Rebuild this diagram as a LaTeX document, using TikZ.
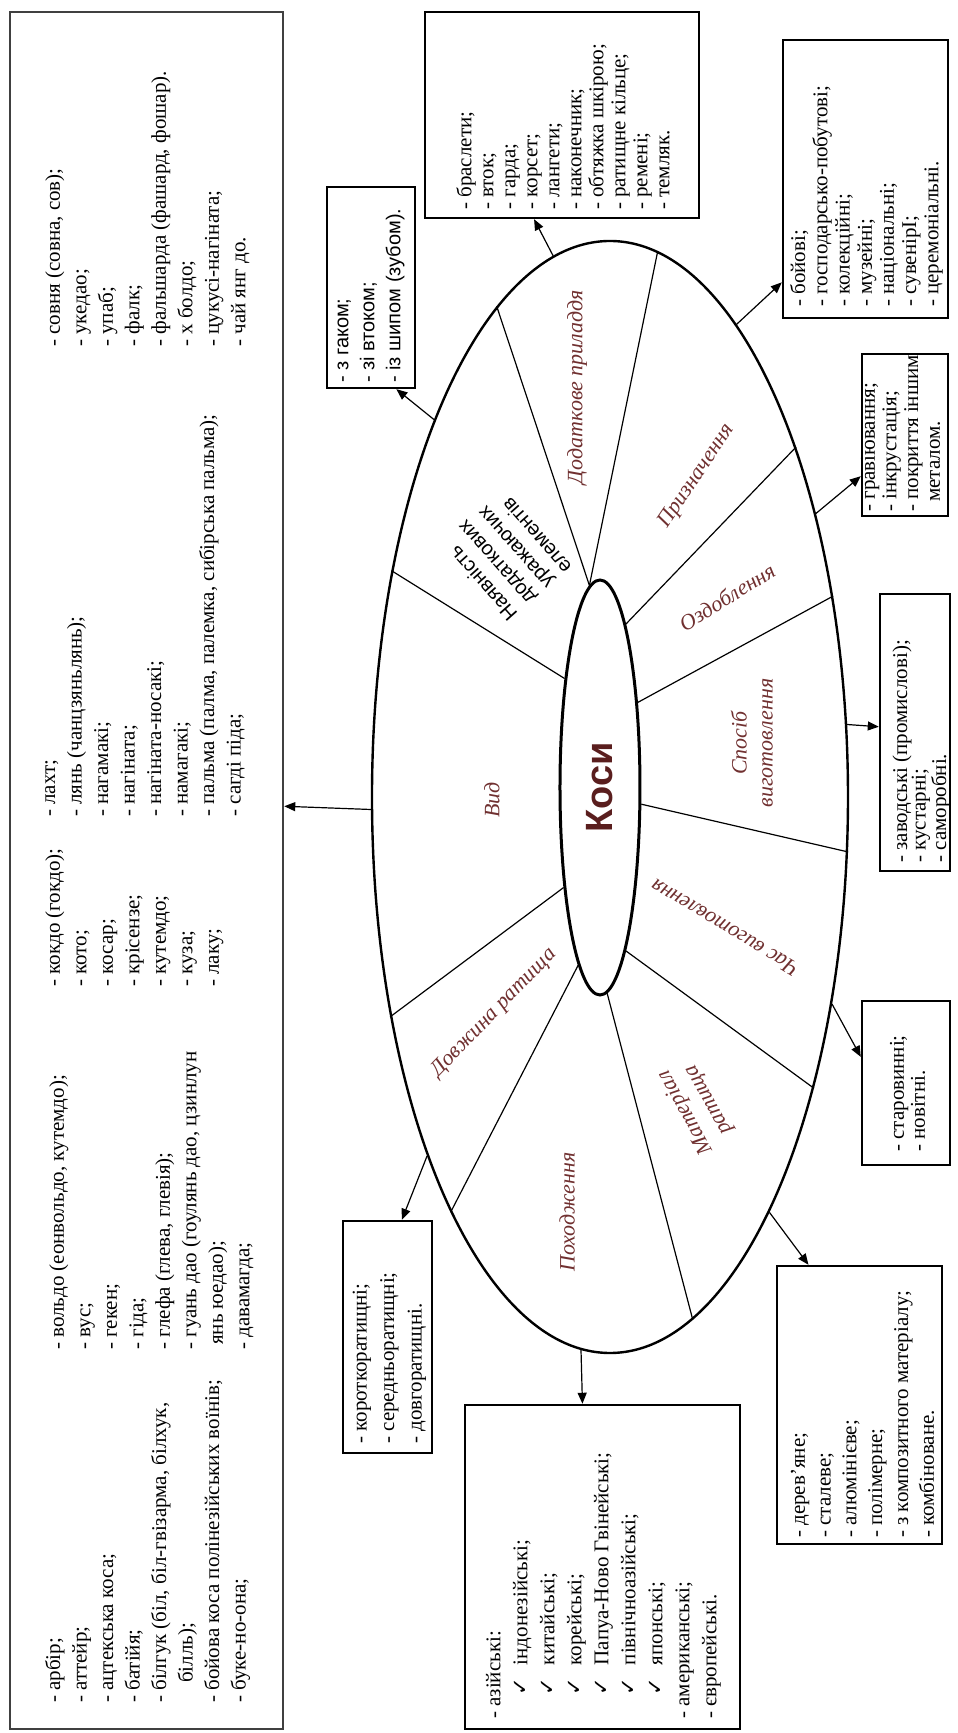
\documentclass[tikz,border=0pt]{standalone}
\usepackage{fontspec}
\setmainfont{Liberation Serif}
\newfontfamily\sansf{Liberation Sans}
\newfontfamily\chkf{DejaVu Sans}
\usetikzlibrary{shapes.geometric,arrows.meta}
\definecolor{labcol}{RGB}{112,48,48}
\definecolor{kosicol}{RGB}{90,30,30}
\newcommand{\listsize}[1]{\fontsize{21}{#1}\selectfont}
\newcommand{\chk}{\hspace*{23pt}{\chkf ✓}\hspace{13pt}}
\tikzset{
  box/.style={draw, line width=2.4pt, inner sep=0pt},
  list/.style={align=left, inner sep=0pt, anchor=west},
  lab/.style={align=center, inner sep=0pt, text=labcol, font=\fontsize{22}{26}\selectfont\itshape},
  sep/.style={line width=1.2pt},
  arr/.style={line width=1.2pt, -{Triangle[length=11pt,width=9pt]}}
}
\begin{document}
\begin{tikzpicture}[x=1pt, y=1pt, rotate=90, transform shape]
\useasboundingbox (0,0) rectangle (1733,958);

% Centre
\node[ellipse, draw, line width=2.4pt, minimum width=1112pt, minimum height=476pt, inner sep=0pt] (outer) at (936,348) {};
\node[ellipse, draw, line width=3pt, minimum width=415pt, minimum height=80pt, inner sep=0pt, text=kosicol, font=\fontsize{38}{40}\sansf\bfseries] (inner) at (945.5,358) {Коси};

% Sectors
\draw[sep] (inner.18) -- (outer.44.5);
\draw[sep] (inner.3) -- (outer.13);
\draw[sep] (inner.3) -- (outer.-5.3);
\draw[sep] (inner.-9.4) -- (outer.-28.6);
\draw[sep] (inner.-24) -- (outer.-48.5);
\draw[sep] (inner.-112) -- (outer.-103.5);
\draw[sep] (inner.-171) -- (outer.-145.8);
\draw[sep] (inner.-178.6) -- (outer.-171.6);
\draw[sep] (inner.173) -- (outer.159.8);
\draw[sep] (inner.160.8) -- (outer.135.9);

\node[lab] (dod) at (1346,381) {Додаткове приладдя};
\node[lab] (vyd) at (933,466) {Вид};
\node[lab, rotate=-34] (pryz) at (1257,261) {Призначення};
\node[lab, rotate=-58] (ozd) at (1136,231) {Оздоблення};
\node[lab] (sposib) at (990,206) {Спосіб\\виготовлення};
\node[lab, rotate=59] (chas) at (805,233) {Час виготовлення};
\node[lab, rotate=29] (mater) at (627,261) {Матеріал\\ратища};
\node[lab] (pokh) at (521,391) {Походження};
\node[lab, rotate=-44] (dovzh) at (720,464) {Довжина ратища};
\node[align=left, inner sep=0pt, rotate=41.5, font=\fontsize{20}{24}\sansf] (nayav) at (1178,453) {Наявність\\додаткових\\уражаючих\\елементів};

% Boxes
\node[box, draw=black!75, line width=2.5pt, minimum width=1717pt, minimum height=273pt] (vid) at (862.5,811.5) {};
\node[box, minimum width=201pt, minimum height=88pt] (hooks) at (1445.5,587) {};
\node[box, minimum width=206pt, minimum height=274pt] (brasl) at (1618,396) {};
\node[box, minimum width=278pt, minimum height=165pt] (boj) at (1554,92.5) {};
\node[box, minimum width=162pt, minimum height=86pt] (grav) at (1298,53) {};
\node[box, minimum width=277pt, minimum height=70pt] (zavod) at (1000.5,43) {};
\node[box, minimum width=164pt, minimum height=88pt] (star) at (650,52) {};
\node[box, minimum width=278pt, minimum height=165pt] (mat) at (328,98.5) {};
\node[box, minimum width=232pt, minimum height=89pt] (len) at (396,570.5) {};
\node[box, minimum width=324pt, minimum height=275pt] (orig) at (166,355.5) {};

% Box texts
\node[list, anchor=north west, font=\listsize{26.5}] (gA) at (30,913) {- арбір;\\- аттейр;\\- ацтекська коса;\\- батійя;\\- білгук (біл, біл-гвізарма, білхук,\\\hspace*{20pt}білль);\\- бойова коса полінезійських воїнів;\\- буке-но-она;};
\node[list, anchor=north west, font=\listsize{26.5}] (gB) at (383,909) {- вольдо (еонвольдо, кутемдо);\\- вус;\\- гекен;\\- гіда;\\- глефа (глева, глевія);\\- гуань дао (гоулянь дао, цзинлун\\\hspace*{5pt}янь юедао);\\- давамагда;};
\node[list, anchor=north west, font=\listsize{26.5}] (gC) at (746,913) {- кокдо (гокдо);\\- кото;\\- косар;\\- крісензе;\\- кутемдо;\\- куза;\\- лаку;};
\node[list, anchor=north west, font=\listsize{26.5}] (gD) at (916,913) {- лахт;\\- лянь (чанцзяньлянь);\\- нагамакі;\\- нагіната;\\- нагіната-носакі;\\- намагакі;\\- пальма (палма, палемка, сибірська пальма);\\- сагді піда;};
\node[list, anchor=north west, font=\listsize{26.5}] (gE) at (1386,913) {- совня (совна, сов);\\- укедао;\\- упаб;\\- фалк;\\- фальшарда (фашард, фошар).\\- х болдо;\\- цукусі-нагіната;\\- чай янг до.};

\node[list, font=\fontsize{20}{26}\sansf] (thooks) at (1350,587) {- з гаком;\\- зі втоком;\\- із шипом (зубом).};
\node[list, font=\listsize{22}] (tbrasl) at (1523,395) {- браслети;\\- вток;\\- гарда;\\- корсет;\\- лангети;\\- наконечник;\\- обтяжка шкірою;\\- ратищне кільце;\\- ремені;\\- темляк.};
\node[list, font=\listsize{22.2}] (tboj) at (1426,91.5) {- бойові;\\- господарсько-побутові;\\- колекційні;\\- музейні;\\- національні;\\- сувенірІ;\\- церемоніальні.};
\node[list, font=\listsize{21.7}] (tgrav) at (1221,57.5) {- гравіювання;\\- інкрустація;\\- покриття іншим\\\hspace*{10pt}металом.};
\node[list, font=\listsize{18.5}] (tzavod) at (870,36.5) {- заводські (промислові);\\- кустарні;\\- саморобні.};
\node[list, font=\listsize{21}] (tstar) at (581,50.5) {- старовинні;\\- новітні.};
\node[list, font=\listsize{25.8}] (tmat) at (195,95.5) {- дерев’яне;\\- сталеве;\\- алюмінієве;\\- полімерне;\\- з композитного матеріалу;\\- комбіноване.};
\node[list, font=\listsize{27.5}] (tlen) at (289,568.5) {- короткоратищні;\\- середньоратищні;\\- довгоратищні.};
\node[list, font=\listsize{27}] (torig) at (14,354.5) {- азійські:\\\chk індонезійські;\\\chk китайські;\\\chk корейські;\\\chk Папуа-Ново Гвінейські;\\\chk північноазійські;\\\chk японські;\\- американські;\\- європейські.};

% Arrows
\draw[arr] (outer.93) -- (vid.-65.4);
\draw[arr] (outer.25.4) -- (hooks.194.6);
\draw[arr] (outer.6.9) -- (brasl.165.4);
\draw[arr] (outer.-15) -- (boj.141);
\draw[arr] (outer.-36.3) -- (grav.133);
\draw[arr] (outer.-73.5) -- (zavod.81);
\draw[arr] (outer.-133.3) -- (star.60);
\draw[arr] (outer.-159.9) -- (mat.20.3);
\draw[arr] (outer.177) -- (orig.7.6);
\draw[arr] (outer.153.9) -- (len.-7.5);

\end{tikzpicture}
\end{document}
